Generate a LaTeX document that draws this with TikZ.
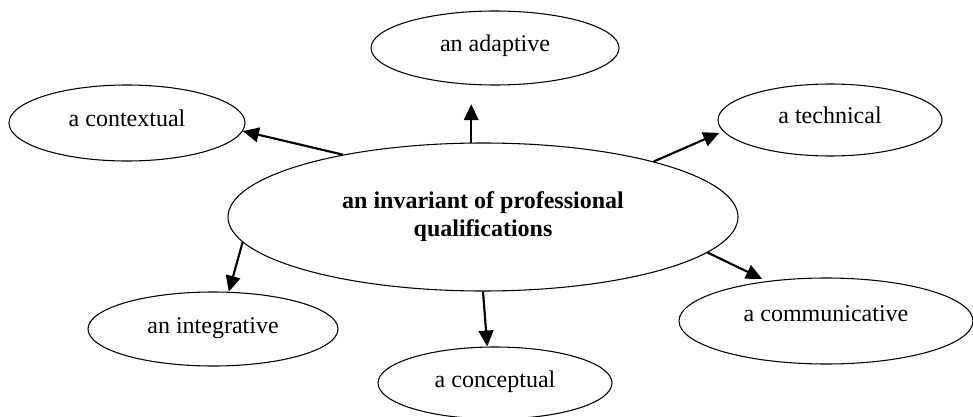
\documentclass[tikz,border=0pt]{standalone}
\usepackage{fontspec}
\setmainfont{Liberation Serif}
\usetikzlibrary{arrows.meta,shapes.geometric}
\begin{document}
\begin{tikzpicture}[x=0.75pt,y=-0.75pt,
  ell/.style={draw=black, line width=0.8pt, ellipse, inner sep=0pt,
    font=\fontsize{18}{21}\selectfont, text height=12pt, text depth=6pt},
  mainell/.style={draw=black, line width=0.8pt, ellipse, inner sep=0pt,
    align=center, font=\fontsize{18}{21}\selectfont\bfseries},
  arr/.style={line width=1.6pt, -{Triangle[length=12pt,width=11pt]}}]
\useasboundingbox (0,0) rectangle (973,417);

\node[mainell, minimum width=382.5pt, minimum height=111pt] (c) at (483,217)
  {an invariant of professional\\qualifications};
\node[ell, minimum width=177pt, minimum height=57pt] (ctx) at (127,123) {a contextual};
\node[ell, minimum width=186pt, minimum height=55.5pt] (ad) at (495,48) {an adaptive};
\node[ell, minimum width=168pt, minimum height=54pt] (tech) at (830,120) {a technical};
\node[ell, minimum width=187.5pt, minimum height=55.5pt] (integ) at (213,329) {an integrative};
\node[ell, minimum width=175.5pt, minimum height=54pt] (conc) at (495,383) {a conceptual};
\node[ell, minimum width=220.5pt, minimum height=64.5pt, text height=6pt, text depth=6pt] (comm) at (826,321) {a communicative};

\draw[arr] (c.156) -- (ctx.-4);
\draw[arr, shorten >=14pt] (c.99.3) -- (c.99.3 |- ad.south);
\draw[arr, shorten >=3pt] (c.18.7) -- (tech.186.2);
\draw[arr] (c.186.7) -- (integ.67.2);
\draw[arr] (c.270) -- (conc.102.5);
\draw[arr, shorten >=4pt] (c.-9.8) -- (comm.146.1);
\end{tikzpicture}
\end{document}
